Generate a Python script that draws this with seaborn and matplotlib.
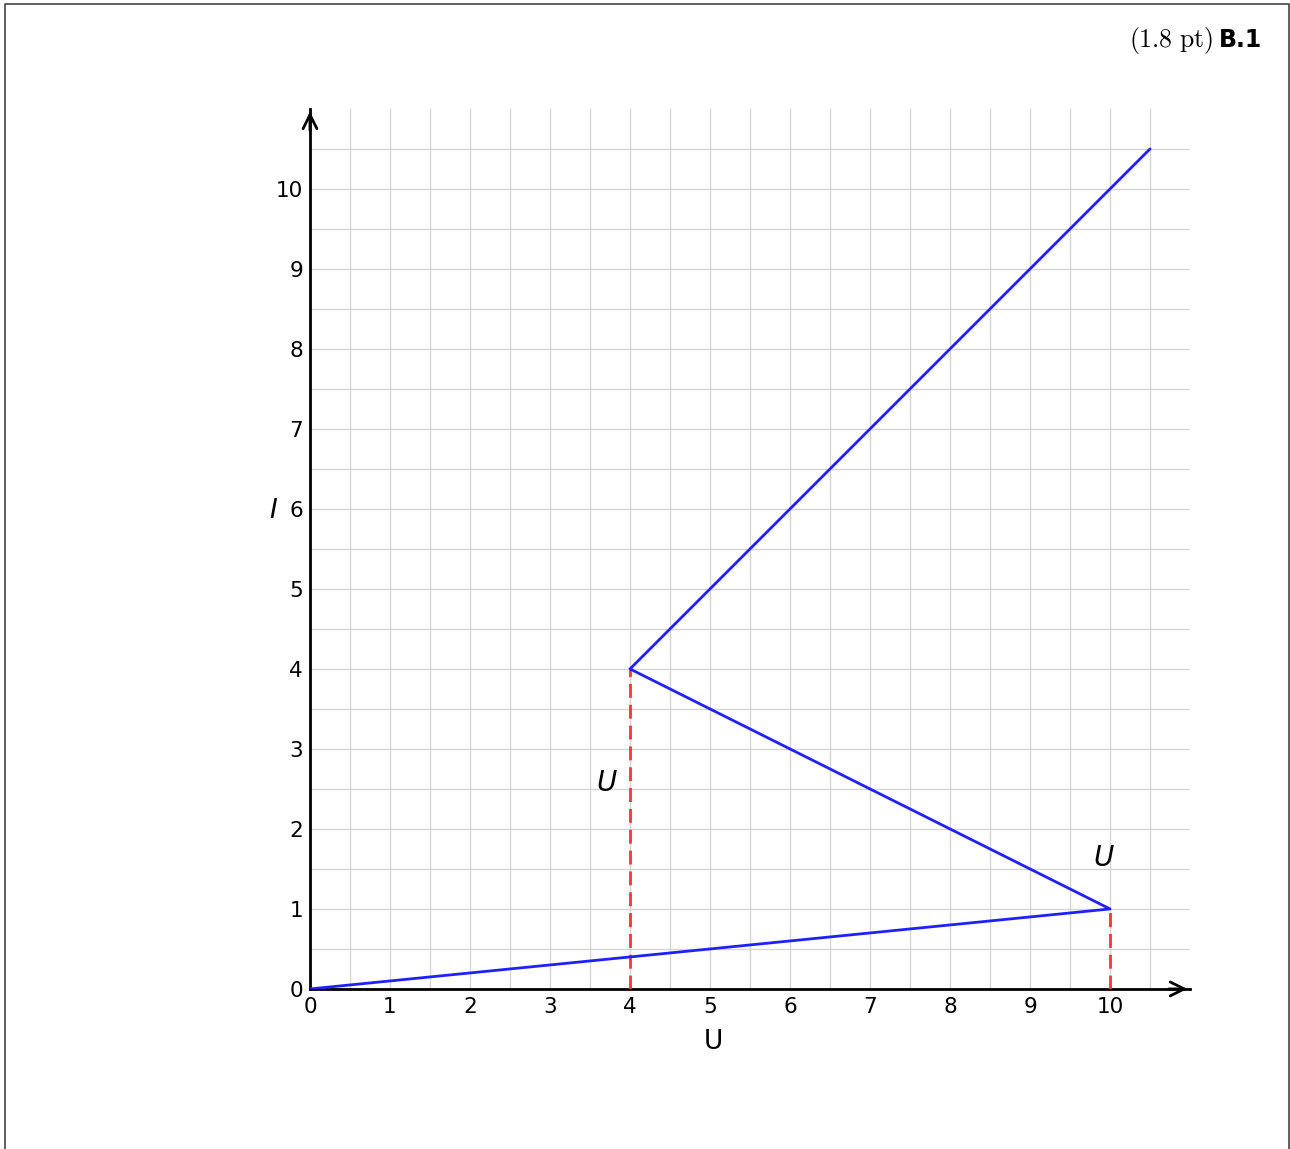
import numpy as np
import pandas as pd
import matplotlib
matplotlib.use("Agg")
import matplotlib.pyplot as plt
import seaborn as sns

# characteristic curve
U = [0, 10, 4, 10.5]
I = [0, 1, 4, 10.5]
# dashed drop lines
drop_x = [4, 10]
drop_top = [4, 1]
ticks = list(range(0, 11))

df = pd.DataFrame({"U": U, "I": I})

sns.set_style("white")
plt.rcParams["font.family"] = ["DejaVu Sans"]
plt.rcParams["text.color"] = "black"
plt.rcParams["xtick.labelcolor"] = "black"
plt.rcParams["ytick.labelcolor"] = "black"

fig = plt.figure(figsize=(12.9, 11.49), dpi=100)
ax = fig.add_axes([0.2403, 0.1393, 0.6822, 0.7659])

# figure frame (left, top, right)
fig.add_artist(plt.Line2D([0.0035, 0.0035, 0.9992, 0.9992], [0.0, 0.9965, 0.9965, 0.0],
                          transform=fig.transFigure, color="#444444", lw=1.2))

sns.lineplot(data=df, x="U", y="I", sort=False, estimator=None, color="#2020ff",
             lw=2, ax=ax, zorder=4)
for x0, y1 in zip(drop_x, drop_top):
    ax.plot([x0, x0], [0, y1], color="#ff3333", lw=2, ls=(0, (5, 2.5)), zorder=3)

ax.set_xlim(0, 11)
ax.set_ylim(0, 11)
ax.set_xticks(ticks)
ax.set_yticks(ticks)
ax.set_xticks(np.arange(0.5, 11, 1), minor=True)
ax.set_yticks(np.arange(0.5, 11, 1), minor=True)
ax.grid(True, which="both", color="#d6d6d6", lw=1)
ax.tick_params(which="major", direction="in", length=7, width=1.5, color="#aaaaaa",
               labelsize=15.5)
ax.tick_params(axis="x", pad=6)
ax.tick_params(axis="y", pad=5)
ax.tick_params(which="minor", length=0)

for s in ["top", "right"]:
    ax.spines[s].set_visible(False)
for s in ["left", "bottom"]:
    ax.spines[s].set_color("black")
    ax.spines[s].set_linewidth(2)

# arrow heads
ax.annotate("", xy=(11.0, 0), xytext=(10.7, 0), annotation_clip=False,
            arrowprops=dict(arrowstyle="->", color="black", lw=2, mutation_scale=25))
ax.annotate("", xy=(0, 11.0), xytext=(0, 10.7), annotation_clip=False,
            arrowprops=dict(arrowstyle="->", color="black", lw=2, mutation_scale=25))

ax.set_xlabel("")
ax.set_ylabel("")
ax.text(5.04, -0.66, "U", fontsize=19, ha="center", va="center")
ax.text(-0.46, 5.97, "I", fontsize=19, style="italic", ha="center", va="center")

ax.text(3.71, 2.57, "U", fontsize=20, style="italic", ha="center", va="center")
ax.text(9.92, 1.64, "U", fontsize=20, style="italic", ha="center", va="center")

fig.text(0.9405, 0.965, r"$\mathrm{(1.8\ pt)}$", fontsize=18.5, ha="right", va="center",
         math_fontfamily="cm")
fig.text(0.9785, 0.965, "B.1", fontsize=17, fontweight="bold", ha="right", va="center")

fig.savefig("out.png", dpi=100)
